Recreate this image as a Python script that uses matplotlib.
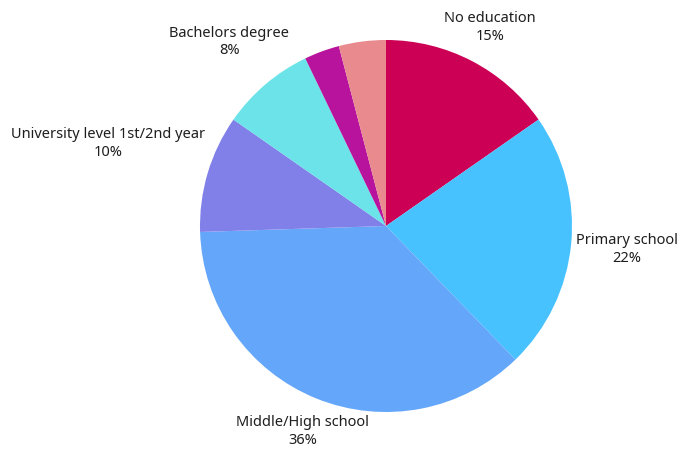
import matplotlib
matplotlib.use("Agg")
import matplotlib.pyplot as plt
import numpy as np

# Education level shares (percent), clockwise from the top
categories = ["No education", "Primary school", "Middle/High school",
              "University level 1st/2nd year", "Bachelors degree",
              "Masters degree", "Other"]
values = [15, 22, 36, 10, 8, 3, 4]
shown_labels = ["No education\n15%", "Primary school\n22%", "Middle/High school\n36%",
                "University level 1st/2nd year\n10%", "Bachelors degree\n8%", "", ""]

colors = ["#CC0055", "#47C2FF", "#64A6FA", "#8080E8", "#6BE3E8", "#B8139C", "#E88A8E"]
label_dist = [1.205, 1.30, 1.19, 1.56, 1.30, 1.2, 1.2]

plt.rcParams["font.family"] = ["Noto Sans", "DejaVu Sans"]

fig = plt.figure(figsize=(6.81, 4.53), dpi=100)
ax = fig.add_axes([0, 0, 1, 1])

R = 186
cx, cy = 386, 453 - 226

wedges, _ = ax.pie(values, colors=colors, startangle=90, counterclock=False,
                   radius=R, center=(cx, cy), frame=True,
                   wedgeprops=dict(linewidth=0))
ax.set_xlim(0, 681)
ax.set_ylim(0, 453)
ax.set_aspect("equal")
ax.axis("off")

for w, lab, d in zip(wedges, shown_labels, label_dist):
    if not lab:
        continue
    mid = np.deg2rad((w.theta1 + w.theta2) / 2)
    x = cx + d * R * np.cos(mid)
    y = cy + d * R * np.sin(mid)
    ax.text(x, y, lab, ha="center", va="center", fontsize=10.5,
            color="#1e1e1e", linespacing=1.25)

fig.savefig("out.png", dpi=100)
